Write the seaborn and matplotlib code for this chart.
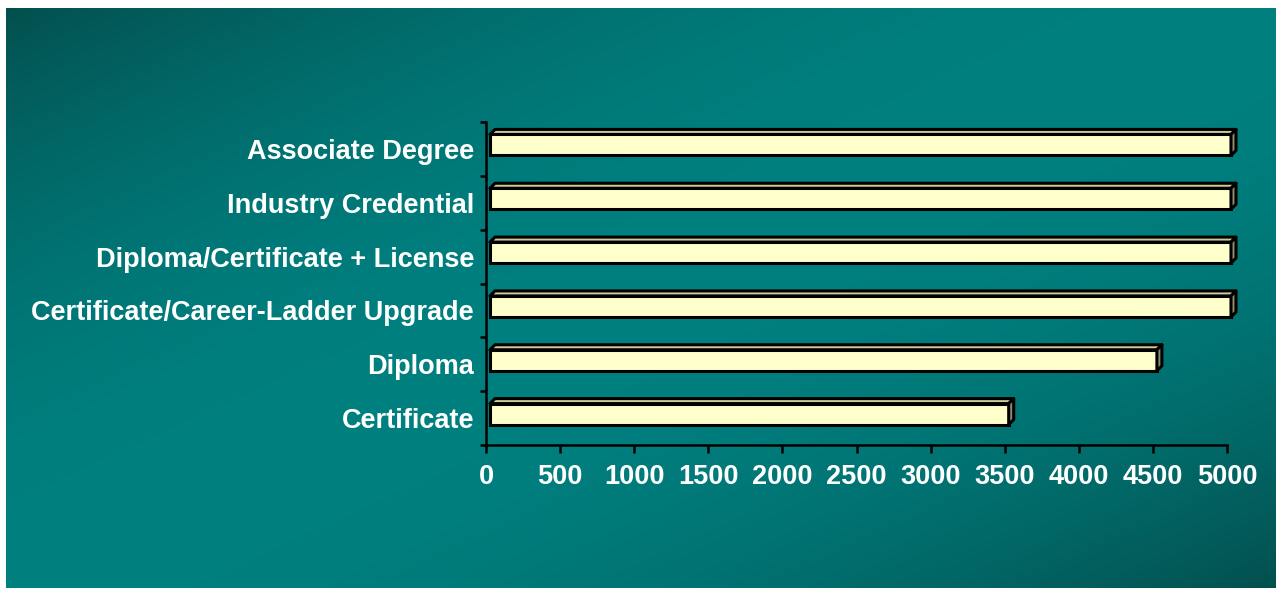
import numpy as np
import pandas as pd
import seaborn as sns
import matplotlib.pyplot as plt
from matplotlib import transforms
from matplotlib.patches import Polygon

categories = ['Associate Degree', 'Industry Credential', 'Diploma/Certificate + License',
              'Certificate/Career-Ladder Upgrade', 'Diploma', 'Certificate']
values = [5000, 5000, 5000, 5000, 4500, 3500]
xticks = [0, 500, 1000, 1500, 2000, 2500, 3000, 3500, 4000, 4500, 5000]

sns.set_theme(style='ticks')
plt.rcParams['font.family'] = ['Liberation Sans', 'DejaVu Sans']
plt.rcParams['font.weight'] = 'bold'

W, H = 1281, 590
fig = plt.figure(figsize=(W / 100, H / 100), dpi=100, facecolor='white')

# teal diagonal gradient background
bg = fig.add_axes([6 / W, 2 / H, 1270 / W, 580 / H])
gx, gy = np.meshgrid(np.linspace(0, 1, 640), np.linspace(0, 1, 300))
t = (gx + gy) / 2
f = 1 - np.abs(2 * t - 1) ** 2
dark = np.array([0x03, 0x50, 0x4e]) / 255
bright = np.array([0x00, 0x80, 0x80]) / 255
img = dark + (bright - dark) * f[..., None]
bg.imshow(img, aspect='auto', extent=[0, 1, 1, 0], interpolation='bilinear')
bg.set_axis_off()

ax = fig.add_axes([486 / W, 145 / H, 741 / W, 323 / H])
ax.set_facecolor('none')
df = pd.DataFrame({'category': categories, 'value': values})
sns.barplot(data=df, x='value', y='category', orient='h', color='#FFFFCC', saturation=1,
            width=0.39, edgecolor='black', linewidth=2.2, ax=ax)

ax.set_xlim(0, 5000)
ax.set_ylim(len(categories) - 0.5, -0.5)
ax.set_xticks(xticks)
ax.set_yticks(np.arange(-0.5, len(categories)), minor=True)
ax.set_xlabel('')
ax.set_ylabel('')
sns.despine(ax=ax)
for s in ['left', 'bottom']:
    ax.spines[s].set_color('black')
    ax.spines[s].set_linewidth(1.8)
ax.tick_params(axis='y', which='major', length=0, pad=8.6, labelsize=19.5, labelcolor='white')
ax.tick_params(axis='y', which='minor', length=4, width=1.8, color='black', direction='out')
ax.tick_params(axis='x', which='major', length=5.5, width=1.8, color='black', direction='out',
               pad=8, labelsize=19.5, labelcolor='white')

# 3D look: shift front faces and add top / side faces
shift = transforms.ScaledTranslation(0.04, 0.04, fig.dpi_scale_trans)
d = 5
ident = transforms.IdentityTransform()
for p in list(ax.patches):
    p.set_transform(ax.transData + shift)
    p.set_clip_on(False)
    pts = (ax.transData + shift).transform([[p.get_x(), p.get_y()],
                                             [p.get_x() + p.get_width(), p.get_y() + p.get_height()]])
    l, r = pts[:, 0].min(), pts[:, 0].max()
    b, tp = pts[:, 1].min(), pts[:, 1].max()
    top = Polygon([[l, tp], [r, tp], [r + d, tp + d], [l + d, tp + d]], closed=True,
                  transform=ident, fc='#CCCC99', ec='black', lw=2.2, clip_on=False,
                  joinstyle='round')
    side = Polygon([[r, b], [r + d, b + d], [r + d, tp + d], [r, tp]], closed=True,
                   transform=ident, fc='#8F8D6E', ec='black', lw=2.2, clip_on=False,
                   joinstyle='round')
    ax.add_artist(top)
    ax.add_artist(side)

fig.savefig('out.png', dpi=100)
